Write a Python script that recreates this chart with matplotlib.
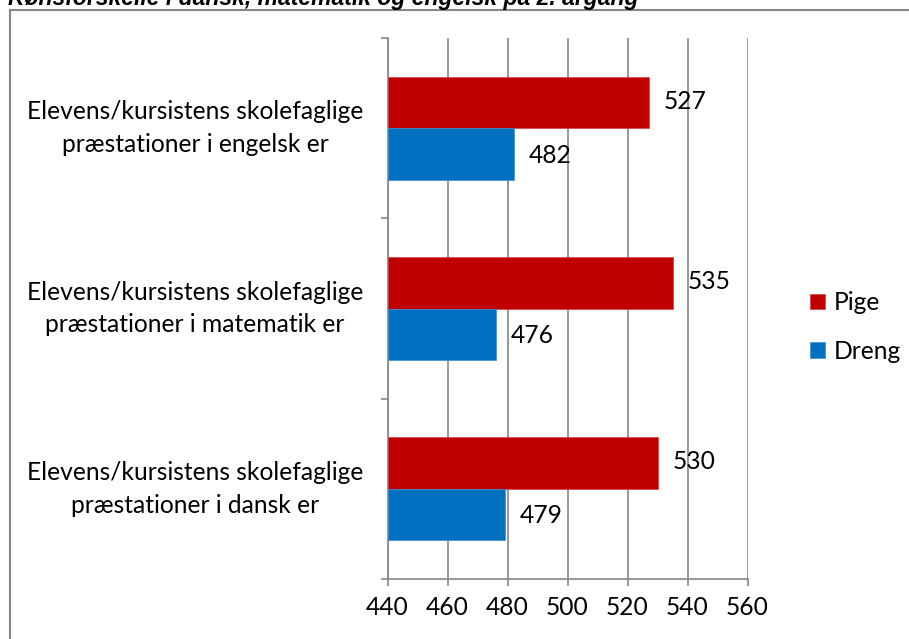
import matplotlib
matplotlib.use("Agg")
import matplotlib.pyplot as plt
from matplotlib.patches import Rectangle

plt.rcParams['font.family'] = ['Lato', 'DejaVu Sans']

title = "Kønsforskelle i dansk, matematik og engelsk på 2. årgang"
categories = [
    "Elevens/kursistens skolefaglige\npræstationer i dansk er",
    "Elevens/kursistens skolefaglige\npræstationer i matematik er",
    "Elevens/kursistens skolefaglige\npræstationer i engelsk er",
]
series_names = ["Pige", "Dreng"]
pige = [530, 535, 527]
dreng = [479, 476, 482]
xticks = [440, 460, 480, 500, 520, 540, 560]

colors = {"Pige": "#C00000", "Dreng": "#0070C0"}
W, H = 909, 639
fig = plt.figure(figsize=(W / 100, H / 100), dpi=100)
ax = fig.add_axes([387.5 / W, (H - 579) / H, 360 / W, 541 / H])

fs = 17.7
bw = 1 / 3.5
ypos = list(range(len(categories)))
b1 = ax.barh([y + bw / 2 for y in ypos], [v - 440 for v in pige], left=440, height=bw,
             color=colors["Pige"], label="Pige", zorder=3, edgecolor='#d04040', linewidth=0.5)
b2 = ax.barh([y - bw / 2 for y in ypos], [v - 440 for v in dreng], left=440, height=bw,
             color=colors["Dreng"], label="Dreng", zorder=3, edgecolor='#4090d0', linewidth=0.5)

for y, v in zip(ypos, pige):
    ax.annotate(str(v), (v, y + bw / 2), xytext=(11, 1), textcoords='offset points',
                va='center', ha='left', fontsize=fs, zorder=4)
for y, v in zip(ypos, dreng):
    ax.annotate(str(v), (v, y - bw / 2), xytext=(11, -1), textcoords='offset points',
                va='center', ha='left', fontsize=fs, zorder=4)

ax.set_xlim(440, 560)
ax.set_ylim(-0.5, len(categories) - 0.5)
ax.set_xticks(xticks)
ax.set_xticklabels([str(t) for t in xticks], fontsize=fs)
ax.set_yticks([y - 0.5 for y in range(len(categories) + 1)])
ax.set_yticklabels([])
ax.tick_params(axis='both', direction='out', length=5, width=1.2, color='#868686')
ax.tick_params(axis='x', pad=7)
ax.grid(axis='x', color='#868686', linewidth=1.2, zorder=0)
ax.set_axisbelow(True)
for s in ['top', 'right']:
    ax.spines[s].set_visible(False)
for s in ['left', 'bottom']:
    ax.spines[s].set_color('#868686')
    ax.spines[s].set_linewidth(1.2)

tr = ax.get_yaxis_transform()
for y, lab in zip(ypos, categories):
    ax.text((195 - 387.5) / 360, y, lab, transform=tr, ha='center', va='center',
            multialignment='center', fontsize=fs, linespacing=1.5)

fig.legend(handles=[b1, b2], labels=series_names, loc='center left',
           bbox_to_anchor=(788 / W, 1 - 327 / H), frameon=False, fontsize=fs,
           handlelength=0.6, handleheight=0.6, handletextpad=0.35, labelspacing=1.05)

fig.add_artist(Rectangle((9.5 / W, -0.1), 1.2, (H - 10) / H + 0.1, transform=fig.transFigure,
                         fill=False, edgecolor='#878787', linewidth=1.5))
fig.text(8 / W, 1 - 4.5 / H, title, fontsize=16.5, fontweight='bold', fontstyle='italic',
         va='baseline', ha='left', family='Liberation Sans')

fig.savefig("out.png", dpi=100)
